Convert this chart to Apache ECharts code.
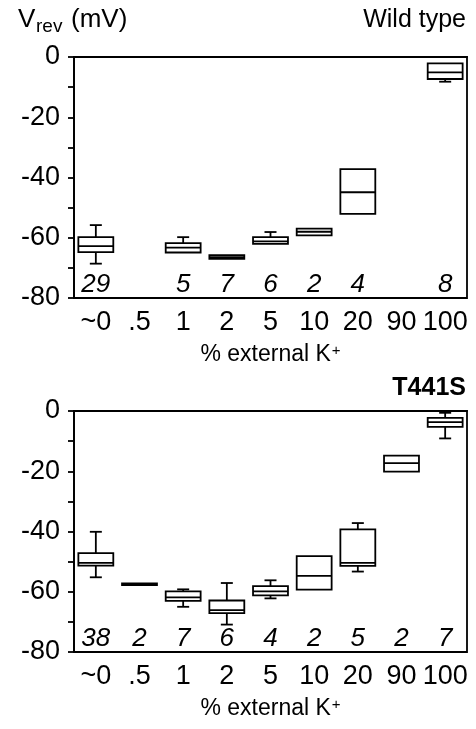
<!DOCTYPE html>
<html>
<head>
<meta charset="utf-8">
<script src="https://cdn.jsdelivr.net/npm/echarts@6/dist/echarts.min.js"></script>
<style>
  html, body { margin: 0; padding: 0; background: #fff; }
  #chart { width: 476px; height: 729px; }
</style>
</head>
<body>
<div id="chart"></div>
<script>
// categories (% external K+)
const categories = ['~0', '.5', '1', '2', '5', '10', '20', '90', '100'];

// box stats: [min, q1, median, q3, max] in mV, null where no data
const wildType = [
  [-68.6, -64.8, -62.8, -59.8, -55.8],
  null,
  [-64.9, -64.9, -63.3, -61.8, -59.8],
  [-67.0, -67.0, -66.4, -65.8, -65.8],
  [-62.0, -62.0, -61.2, -59.8, -58.1],
  [-59.2, -59.2, -58.0, -57.0, -57.0],
  [-52.1, -52.1, -44.9, -37.2, -37.2],
  null,
  [-8.2, -7.3, -5.1, -2.1, -2.1]
];
const t441s = [
  [-55.2, -51.3, -50.4, -47.2, -40.1],
  [-57.8, -57.8, -57.5, -57.2, -57.2],
  [-65.0, -63.0, -61.9, -59.9, -59.2],
  [-70.9, -67.1, -66.1, -62.9, -57.1],
  [-62.2, -61.2, -59.9, -58.1, -56.2],
  [-59.3, -59.3, -54.7, -48.2, -48.2],
  [-53.3, -51.4, -50.4, -39.3, -37.2],
  [-20.1, -20.1, -17.3, -14.8, -14.8],
  [-9.1, -5.3, -3.7, -2.3, -0.6]
];

// n per group
const wildTypeN = ['29', '', '5', '7', '6', '2', '4', '', '8'];
const t441sN = ['38', '2', '7', '6', '4', '2', '5', '2', '7'];

// y ticks
const yMin = -80;
const yMax = 0;
const yStep = 10;

const FONT = '"Liberation Sans", Arial, sans-serif';
const COUNT_Y = -75.6;
const LW = 1.8;

const chart = echarts.init(document.getElementById('chart'), null, { renderer: 'canvas' });

function boxData(stats) {
  const out = [];
  stats.forEach((s, i) => {
    if (s) out.push([i].concat(s));
  });
  return out;
}

function countData(ns) {
  const out = [];
  ns.forEach((n, i) => {
    if (n) out.push([i, COUNT_Y, n]);
  });
  return out;
}

function renderBox(params, api) {
  const x = api.value(0);
  const lo = api.coord([x, api.value(1)]);
  const q1 = api.coord([x, api.value(2)]);
  const md = api.coord([x, api.value(3)]);
  const q3 = api.coord([x, api.value(4)]);
  const hi = api.coord([x, api.value(5)]);
  const w = api.size([1, 0])[0] * 0.8;
  const cap = 12;
  const cx = lo[0];
  const st = { stroke: '#000', lineWidth: LW, fill: null };
  const children = [];
  if (hi[1] < q3[1] - 0.5) {
    children.push({ type: 'line', shape: { x1: cx, y1: q3[1], x2: cx, y2: hi[1] }, style: st });
    children.push({ type: 'line', shape: { x1: cx - cap / 2, y1: hi[1], x2: cx + cap / 2, y2: hi[1] }, style: st });
  }
  if (lo[1] > q1[1] + 0.5) {
    children.push({ type: 'line', shape: { x1: cx, y1: q1[1], x2: cx, y2: lo[1] }, style: st });
    children.push({ type: 'line', shape: { x1: cx - cap / 2, y1: lo[1], x2: cx + cap / 2, y2: lo[1] }, style: st });
  }
  children.push({ type: 'rect', shape: { x: cx - w / 2, y: q3[1], width: w, height: q1[1] - q3[1] }, style: { stroke: '#000', lineWidth: LW, fill: '#fff' } });
  children.push({ type: 'line', shape: { x1: cx - w / 2, y1: md[1], x2: cx + w / 2, y2: md[1] }, style: st });
  return { type: 'group', children: children };
}

function renderCount(params, api) {
  const p = api.coord([api.value(0), api.value(1)]);
  return {
    type: 'text',
    x: p[0],
    y: p[1],
    style: {
      text: String(api.value(2)),
      font: 'italic 26px ' + FONT,
      fill: '#000',
      align: 'center',
      verticalAlign: 'middle'
    }
  };
}

function xAxisFor(idx) {
  return {
    type: 'category',
    gridIndex: idx,
    data: categories,
    boundaryGap: true,
    axisLine: { lineStyle: { color: '#000', width: LW } },
    axisTick: { interval: 0, length: 7, lineStyle: { color: '#000', width: LW } },
    axisLabel: { interval: 0, color: '#000', fontFamily: FONT, fontSize: 27, margin: 11 },
    name: '{a|% external K}{b|+}',
    nameLocation: 'middle',
    nameGap: 45,
    nameTextStyle: {
      color: '#000',
      rich: {
        a: { fontFamily: FONT, fontSize: 23, color: '#000' },
        b: { fontFamily: FONT, fontSize: 15, color: '#000', verticalAlign: 'top', padding: [0, 0, 9, 1] }
      }
    },
    splitLine: { show: false }
  };
}

function yAxisFor(idx) {
  return {
    type: 'value',
    gridIndex: idx,
    min: yMin,
    max: yMax,
    interval: yStep,
    axisLine: { show: true, lineStyle: { color: '#000', width: LW } },
    axisTick: { show: true, length: 6, lineStyle: { color: '#000', width: LW } },
    axisLabel: {
      color: '#000', fontFamily: FONT, fontSize: 27, margin: 14,
      formatter: v => (v % 20 === 0 ? String(v) : '')
    },
    splitLine: { show: false }
  };
}

const option = {
  animation: false,
  backgroundColor: '#fff',
  grid: [
    { left: 74, top: 57, width: 393, height: 241, show: true, borderColor: '#000', borderWidth: LW, backgroundColor: 'transparent' },
    { left: 74, top: 411, width: 393, height: 241, show: true, borderColor: '#000', borderWidth: LW, backgroundColor: 'transparent' }
  ],
  xAxis: [xAxisFor(0), xAxisFor(1)],
  yAxis: [yAxisFor(0), yAxisFor(1)],
  graphic: [
    { type: 'text', left: 18, top: 7, style: { text: 'V', font: '26px ' + FONT, fill: '#000' } },
    { type: 'text', left: 36, top: 17, style: { text: 'rev', font: '19px ' + FONT, fill: '#000' } },
    { type: 'text', left: 71, top: 7, style: { text: '(mV)', font: '26px ' + FONT, fill: '#000' } },
    { type: 'text', right: 10, top: 8, style: { text: 'Wild type', font: '25px ' + FONT, fill: '#000' } },
    { type: 'text', right: 10, top: 376, style: { text: 'T441S', font: 'bold 25px ' + FONT, fill: '#000' } }
  ],
  series: [
    { type: 'custom', xAxisIndex: 0, yAxisIndex: 0, renderItem: renderBox, data: boxData(wildType), encode: { x: 0, y: [1, 2, 3, 4, 5] } },
    { type: 'custom', xAxisIndex: 1, yAxisIndex: 1, renderItem: renderBox, data: boxData(t441s), encode: { x: 0, y: [1, 2, 3, 4, 5] } },
    { type: 'custom', xAxisIndex: 0, yAxisIndex: 0, silent: true, renderItem: renderCount, data: countData(wildTypeN) },
    { type: 'custom', xAxisIndex: 1, yAxisIndex: 1, silent: true, renderItem: renderCount, data: countData(t441sN) }
  ]
};

chart.setOption(option);
</script>
</body>
</html>
